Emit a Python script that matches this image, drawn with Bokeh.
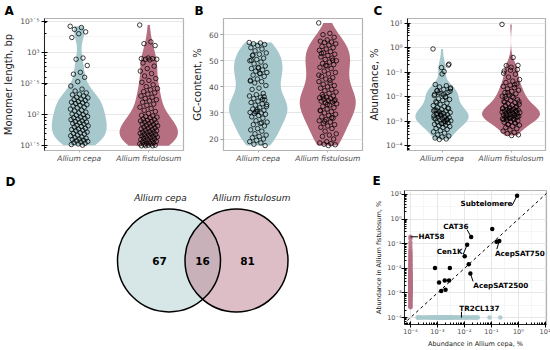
import numpy as np
from bokeh.plotting import figure
from bokeh.models import Range1d, FixedTicker, Grid, Slope, Title
from bokeh.layouts import row, column
from bokeh.embed import file_html
from bokeh.resources import INLINE
from bokeh.core.properties import value

FONT = "DejaVu Sans"
BLUE = "#a7c9cd"
PINK = "#b56f81"
TICK_GREY = "#4d4d4d"
FRAME_GREY = "#b3b3b3"
GRID_MAJOR = "#e3e3e3"
GRID_MINOR = "#f0f0f0"

species = ["Allium cepa", "Allium fistulosum"]

# ---------------- data ----------------
# Panel A: monomer length (log10 bp)
length_cepa_log10 = [3.42, 3.40, 3.37, 3.33, 3.30, 3.24,
    2.91, 2.89, 2.79, 2.68, 2.65, 2.60, 2.53, 2.46, 2.41, 2.38,
    2.35, 2.33, 2.32, 2.30, 2.28, 2.27, 2.25, 2.24, 2.23, 2.21, 2.20, 2.19, 2.18, 2.16, 2.15,
    2.14, 2.12, 2.11, 2.09, 2.07, 2.06, 2.04, 2.03, 2.01, 2.00,
    1.99, 1.97, 1.96, 1.95, 1.94, 1.93, 1.92, 1.90, 1.89, 1.88, 1.87, 1.86, 1.85, 1.83, 1.82,
    1.81, 1.80, 1.78, 1.77, 1.76, 1.75, 1.74, 1.72, 1.71, 1.70, 1.69, 1.67, 1.66, 1.64, 1.63,
    1.62, 1.61, 1.60, 1.59, 1.58, 1.57, 1.56, 1.55, 1.54, 1.53, 1.52, 1.51]
length_fist_log10 = [3.44, 3.17, 3.14, 3.11,
    2.91, 2.90, 2.90, 2.89, 2.89, 2.88,
    2.83, 2.78, 2.74, 2.70, 2.66, 2.62, 2.58, 2.55, 2.52,
    2.48, 2.45, 2.42, 2.40, 2.37, 2.35, 2.33, 2.30, 2.28, 2.26, 2.24, 2.22, 2.20, 2.17, 2.15,
    2.12, 2.10, 2.07, 2.05, 2.02,
    1.99, 1.98, 1.97, 1.96, 1.95, 1.93, 1.92, 1.91, 1.90, 1.89, 1.88, 1.87, 1.86, 1.85, 1.84,
    1.83, 1.82, 1.81, 1.80, 1.79, 1.78, 1.77, 1.76, 1.75, 1.74, 1.73, 1.72, 1.72, 1.71, 1.70,
    1.69, 1.68, 1.68, 1.67, 1.66, 1.65, 1.64, 1.64, 1.63, 1.62, 1.61, 1.60, 1.60, 1.59, 1.58,
    1.57, 1.56, 1.56, 1.55, 1.54, 1.53, 1.53, 1.52, 1.51, 1.51, 1.50, 1.50, 1.50]

# Panel B: GC-content, %
gc_cepa = [57.0, 56.8, 56.5, 56.2, 55.8, 55.0, 54.5, 53.8, 53.0, 52.5, 52.0, 51.0, 50.5, 50.0,
    49.5, 48.8, 48.0, 47.5, 47.0, 46.5, 46.0, 45.5, 45.0, 44.5, 44.0, 43.0, 42.5, 42.0, 41.5, 40.5,
    39.5, 39.0, 37.5, 37.0, 36.5, 36.0, 35.5, 35.0, 34.5, 34.0, 33.5, 33.0, 32.5, 32.0, 31.5,
    31.0, 30.5, 30.2, 30.0, 29.8, 29.5, 29.0, 28.5, 28.0, 27.0, 26.5, 26.0, 25.5, 25.0, 24.0,
    23.5, 23.0, 22.0, 21.5, 21.0, 20.5, 20.0, 19.5, 19.0, 18.5, 18.0, 17.5,
    47.2, 50.2, 35.2, 30.4, 33.2, 45.2, 52.2, 36.2, 31.2, 42.2, 26.2]
gc_fist = [64.5, 60.5, 60.0, 59.0, 58.0, 57.5, 57.2, 57.0, 56.5, 56.0, 55.5, 55.0, 54.5, 54.0,
    53.5, 53.0, 52.5, 52.0, 51.5, 51.0, 50.5, 50.0, 49.5, 49.0, 48.5, 48.0, 47.5, 47.0, 46.0, 45.5,
    45.0, 44.0, 43.5, 43.0, 42.0, 41.5, 41.0, 40.5, 40.0, 39.5, 39.0, 38.5, 38.0, 37.5, 37.0,
    36.5, 36.0, 35.8, 35.5, 35.2, 35.0, 34.8, 34.5, 34.2, 34.0, 33.5, 33.0, 32.5, 32.0, 31.5,
    31.0, 30.5, 30.0, 29.5, 29.0, 28.5, 28.0, 27.5, 27.0, 26.5, 26.0, 25.5, 25.0, 24.5, 24.0,
    23.0, 22.0, 21.5, 21.0, 20.0, 19.0, 18.5, 18.2, 18.0, 17.8, 17.5,
    52.8, 50.2, 48.2, 44.5, 42.5, 36.2, 34.6, 33.2, 30.8, 28.2, 26.8]

# Panels C/E: abundance, % (log10). Shared repeats (16) and species-specific ones
shared_names = ["Subtelomere", "", "CAT36", "AcepSAT750", "", "Cen1K", "", "",
                "AcepSAT2500", "", "", "", "", "", "", ""]
shared_cepa_log10 = [-0.05, -0.97, -1.75, -0.71, -0.81, -1.90, -1.99, -1.84,
                     -1.78, -3.09, -2.54, -2.94, -2.73, -2.57, -2.86, -2.70]
shared_fist_log10 = [0.95, -0.40, -0.73, -0.89, -0.92, -1.04, -1.51, -1.83,
                     -2.21, -1.99, -1.99, -2.57, -2.49, -2.49, -2.92, -2.87]
cepa_only_log10 = [-0.67, -1.07, -1.50, -1.55, -1.60, -1.64, -1.70, -1.76, -1.82, -1.88,
    -1.95, -2.02, -2.08, -2.11, -2.15, -2.20, -2.26, -2.31, -2.36, -2.40,
    -2.44, -2.48, -2.52, -2.55, -2.58, -2.61, -2.64, -2.67, -2.70, -2.73,
    -2.76, -2.78, -2.80, -2.83, -2.85, -2.88, -2.90, -2.93, -2.95, -2.98,
    -3.00, -3.03, -3.06, -3.09, -3.12, -3.15, -3.18, -3.21, -3.25, -3.29,
    -3.33, -3.38, -3.43, -3.48, -3.55, -3.60, -3.64, -3.68, -3.72, -3.74,
    -1.68, -1.92, -2.24, -2.46, -2.66, -2.87, -3.02]
cepa_only_names = {13: "TR2CL137"}
fist_only_log10 = [-0.72, -0.80, -0.95, -1.08, -1.20, -1.30, -1.36, -1.42, -1.48, -1.53,
    -1.58, -1.63, -1.68, -1.73, -1.78, -1.83, -1.88, -1.93, -1.98, -2.03,
    -2.08, -2.12, -2.16, -2.20, -2.24, -2.28, -2.31, -2.34, -2.37, -2.40,
    -2.43, -2.46, -2.49, -2.52, -2.54, -2.56, -2.58, -2.60, -2.62, -2.64,
    -2.66, -2.68, -2.70, -2.72, -2.74, -2.76, -2.78, -2.80, -2.82, -2.84,
    -2.86, -2.88, -2.90, -2.92, -2.95, -2.98, -3.01, -3.04, -3.08, -3.12,
    -3.16, -3.20, -3.25, -3.30, -3.35, -3.40, -3.45, -3.50, -3.55, -3.58,
    -2.22, -2.44, -2.57, -2.63, -2.69, -2.75, -2.81, -2.87, -2.93, -3.06, -3.14]
fist_only_names = {0: "HAT58"}
absent_log10 = -4  # species-specific repeats drawn at 1e-4 %

venn_counts = [67, 16, 81]

abund_cepa_log10 = shared_cepa_log10 + cepa_only_log10
abund_fist_log10 = shared_fist_log10 + fist_only_log10

# ---------------- helpers ----------------
SUP = str.maketrans("0123456789-.", "⁰¹²³⁴⁵⁶⁷⁸⁹⁻˙")


def pow10(e):
    return "10" + f"{e:g}".translate(SUP)


def key(t):
    return int(t) if float(t).is_integer() else float(t)


def log_minor(lo, hi):
    out = []
    for n in range(int(np.floor(lo)) - 1, int(np.ceil(hi)) + 1):
        for k in range(2, 10):
            v = n + np.log10(k)
            if lo <= v <= hi:
                out.append(float(v))
    return out


def kde(vals, grid):
    v = np.asarray(vals, dtype=float)
    n = len(v)
    sd = v.std(ddof=1)
    q75, q25 = np.percentile(v, [75, 25])
    bw = 0.9 * min(sd, (q75 - q25) / 1.34) * n ** -0.2
    z = (grid[:, None] - v[None, :]) / bw
    return np.exp(-0.5 * z ** 2).sum(1) / (n * bw * np.sqrt(2 * np.pi))


def base_fig(w, h, xr, yr, bl, br, bt, bb):
    p = figure(width=w, height=h, x_range=Range1d(*xr), y_range=Range1d(*yr),
               output_backend="svg", toolbar_location=None,
               min_border_left=bl, min_border_right=br,
               min_border_top=bt, min_border_bottom=bb)
    p.outline_line_color = FRAME_GREY
    p.outline_line_width = 1.2
    p.background_fill_color = "white"
    p.border_fill_color = "white"
    for ax in (p.xaxis[0], p.yaxis[0]):
        ax.major_label_text_font = FONT
        ax.major_label_text_font_size = "7.5px"
        ax.major_label_text_color = TICK_GREY
        ax.axis_label_text_font = FONT
        ax.axis_label_text_font_style = "normal"
        ax.axis_label_text_font_size = "10px"
        ax.axis_label_text_color = "#1a1a1a"
        ax.major_label_standoff = 2
        ax.axis_label_standoff = 3
    return p


def letter(p, text, offset, standoff):
    p.add_layout(Title(text=text, align="left", offset=offset, standoff=standoff,
                       text_font=FONT, text_font_style="bold", text_font_size="12px",
                       text_line_height=1.0, text_color="black"), "above")


def log_axis(ax, majors, lo, hi):
    ax.ticker = FixedTicker(ticks=majors, minor_ticks=log_minor(lo, hi))
    ax.major_label_overrides = {key(t): pow10(t) for t in majors}
    ax.axis_line_color = "black"
    ax.axis_line_width = 0.8
    ax.major_tick_in = 3
    ax.major_tick_out = 3
    ax.major_tick_line_color = "black"
    ax.minor_tick_in = 2
    ax.minor_tick_out = 0
    ax.minor_tick_line_color = "black"


def violin_panel(w, h, yr, dc, df, majors, minor_grid, ylabel, borders, log=True):
    p = base_fig(w, h, (0.5, 2.5), yr, *borders)
    p.xaxis.ticker = FixedTicker(ticks=[1, 2])
    p.xaxis.major_label_overrides = {1: species[0], 2: species[1]}
    p.xaxis.major_label_text_font_style = "italic"
    p.xaxis.axis_line_color = None
    p.xaxis.major_tick_out = 2
    p.xaxis.major_tick_in = 0
    p.xaxis.major_tick_line_color = FRAME_GREY
    p.xaxis.minor_tick_line_color = None
    p.xaxis.major_label_standoff = 1
    p.xaxis.axis_label_standoff = 0
    p.xgrid.visible = False
    if log:
        log_axis(p.yaxis[0], majors, *yr)
    else:
        p.yaxis.ticker = FixedTicker(ticks=majors)
        p.yaxis.axis_line_color = None
        p.yaxis.major_tick_out = 3
        p.yaxis.major_tick_in = 0
        p.yaxis.major_tick_line_color = "#999999"
        p.yaxis.minor_tick_line_color = None
    p.yaxis.axis_label = ylabel
    p.ygrid.ticker = FixedTicker(ticks=majors)
    p.ygrid.grid_line_color = GRID_MAJOR
    p.ygrid.grid_line_width = 0.9
    p.add_layout(Grid(dimension=1, ticker=FixedTicker(ticks=minor_grid),
                      grid_line_color=GRID_MINOR, grid_line_width=0.6))

    groups = [np.asarray(dc, float), np.asarray(df, float)]
    grids = [np.linspace(g.min(), g.max(), 200) for g in groups]
    dens = [kde(g, gr) for g, gr in zip(groups, grids)]
    m = max(d.max() for d in dens)
    xs, ys = [], []
    for pos, gr, d in zip([1, 2], grids, dens):
        hw = d / m * 0.42
        xs.append(np.concatenate([pos - hw, (pos + hw)[::-1]]))
        ys.append(np.concatenate([gr, gr[::-1]]))
    p.patches(xs, ys, fill_color=[BLUE, PINK], line_color=None)
    for pos, g in zip([1, 2], groups):
        jit = ((np.arange(len(g)) * 0.6180339887) % 1.0 - 0.5) * 0.26
        p.scatter(pos + jit, g, marker="circle", size=4.5, fill_color=None,
                  line_color="black", line_width=0.75)
    return p


# ---------------- A, B, C ----------------
TOP_H = 165
pa = violin_panel(188, TOP_H, (1.424, 3.545), length_cepa_log10, length_fist_log10,
                  [1.5, 2, 2.5, 3, 3.5], [1.75, 2.25, 2.75, 3.25],
                  "Monomer length, bp", (43, 5, 14, 12))
letter(pa, "A", -40, 2)

pb = violin_panel(177, TOP_H, (15.6, 66.2), gc_cepa, gc_fist,
                  [20, 30, 40, 50, 60], [25, 35, 45, 55],
                  "GC-content, %", (33, 3, 14, 12), log=False)
letter(pb, "B", -29, 2)

pc = violin_panel(185, TOP_H, (-4.19, 1.19), abund_cepa_log10, abund_fist_log10,
                  [-4, -3, -2, -1, 0, 1], [-3.5, -2.5, -1.5, -0.5, 0.5],
                  "Abundance, %", (39, 5, 14, 12))
letter(pc, "C", -34, 2)

# ---------------- E (scatter) ----------------
BOT_H = 185
E_BT, E_BB = 25, 23
EX = (-4.22, 1.04)
EY = (-4.28, 1.16)
pe = base_fig(180, BOT_H, EX, EY, 34, 4, E_BT, E_BB)
dec = [-4, -3, -2, -1, 0, 1]
for ax, lo, hi in ((pe.xaxis[0], *EX), (pe.yaxis[0], *EY)):
    log_axis(ax, dec, lo, hi)
    ax.major_label_text_font_size = "6.5px"
    ax.major_label_standoff = 0
    ax.axis_label_text_font_size = "6.5px"
    ax.axis_label_standoff = 1
pe.xaxis.axis_label = "Abundance in Allium cepa, %"
pe.yaxis.axis_label = "Abundance in Allium fistulosum, %"
pe.xgrid.ticker = FixedTicker(ticks=dec)
pe.ygrid.ticker = FixedTicker(ticks=dec)
pe.grid.grid_line_color = GRID_MAJOR
pe.grid.grid_line_width = 0.9
half = [-3.5, -2.5, -1.5, -0.5, 0.5]
for dim in (0, 1):
    pe.add_layout(Grid(dimension=dim, ticker=FixedTicker(ticks=half),
                       grid_line_color=GRID_MINOR, grid_line_width=0.6))
pe.add_layout(Slope(gradient=1, y_intercept=0, line_color="black", line_width=1,
                    line_dash="3 3"))
pe.scatter([absent_log10] * len(fist_only_log10), fist_only_log10, marker="circle",
           size=4.5, fill_color=PINK, fill_alpha=0.85, line_color=None)
pe.scatter(cepa_only_log10, [absent_log10] * len(cepa_only_log10), marker="circle",
           size=4.5, fill_color=BLUE, fill_alpha=0.9, line_color=None)
pe.scatter(shared_cepa_log10, shared_fist_log10, marker="circle", size=4.5,
           fill_color="black", line_color=None)

# label placement (text anchor, alignment, leader start) for annotated repeats
label_layout = {
    "Subtelomere": ((-0.22, 0.64), "right", (-0.23, 0.56)),
    "CAT36": ((-1.85, -0.31), "right", (-1.90, -0.43)),
    "Cen1K": ((-2.07, -1.30), "right", (-2.04, -1.42)),
    "AcepSAT750": ((-0.87, -1.38), "left", (-0.80, -1.22)),
    "AcepSAT2500": ((-1.67, -2.68), "left", (-1.68, -2.53)),
    "HAT58": ((-3.70, -0.69), "left", (-3.72, None)),
    "TR2CL137": ((-2.19, -3.64), "left", (None, -3.76)),
}
targets = {}
for n, xv, yv in zip(shared_names, shared_cepa_log10, shared_fist_log10):
    if n:
        targets[n] = (xv, yv)
for i, n in cepa_only_names.items():
    targets[n] = (cepa_only_log10[i], absent_log10)
for i, n in fist_only_names.items():
    targets[n] = (absent_log10, fist_only_log10[i])

for align in ("left", "right"):
    tx, ty, tt = [], [], []
    for n, (pos, al, lead) in label_layout.items():
        if al == align:
            tx.append(pos[0]); ty.append(pos[1]); tt.append(n)
    pe.text(tx, ty, text=tt, text_font=value(FONT), text_font_style="bold",
            text_font_size="7.2px", text_align=align, text_baseline="middle",
            text_color="black")
seg = {"x0": [], "y0": [], "x1": [], "y1": []}
for n, (pos, al, lead) in label_layout.items():
    tx_, ty_ = targets[n]
    seg["x0"].append(lead[0] if lead[0] is not None else tx_)
    seg["y0"].append(lead[1] if lead[1] is not None else ty_)
    seg["x1"].append(tx_)
    seg["y1"].append(ty_)
pe.segment(seg["x0"], seg["y0"], seg["x1"], seg["y1"], line_color="black", line_width=1)
letter(pe, "E", -32, 5)

# ---------------- D (Venn) ----------------
pd = figure(width=370, height=BOT_H, x_range=Range1d(0, 370),
            y_range=Range1d(E_BB, BOT_H - E_BT),
            output_backend="svg", toolbar_location=None,
            min_border_left=0, min_border_right=0,
            min_border_top=E_BT, min_border_bottom=E_BB,
            x_axis_location=None, y_axis_location=None)
pd.grid.visible = False
pd.outline_line_color = None
pd.border_fill_color = "white"
venn_x = [168.5, 236.0]
venn_y = [88.5, 88.5]
pd.circle(x=venn_x, y=venn_y, radius=51.5, fill_color=[BLUE, PINK], fill_alpha=0.45,
          line_color=None)
pd.circle(x=venn_x, y=venn_y, radius=51.5, fill_color=None, line_color="black",
          line_width=1.5)
pd.text(x=[160, 251], y=[152, 152], text=species, text_font=value(FONT),
        text_font_style="italic", text_font_size="9px", text_align="center",
        text_baseline="middle", text_color="#1a1a1a")
pd.text(x=[159, 202, 247], y=[88, 88, 88], text=[str(c) for c in venn_counts],
        text_font=value(FONT), text_font_style="bold", text_font_size="10.5px",
        text_align="center", text_baseline="middle", text_color="black")
letter(pd, "D", 5, 3)

layout = column(row(pa, pb, pc), row(pd, pe))
open("out.html", "w").write(file_html(layout, INLINE))
